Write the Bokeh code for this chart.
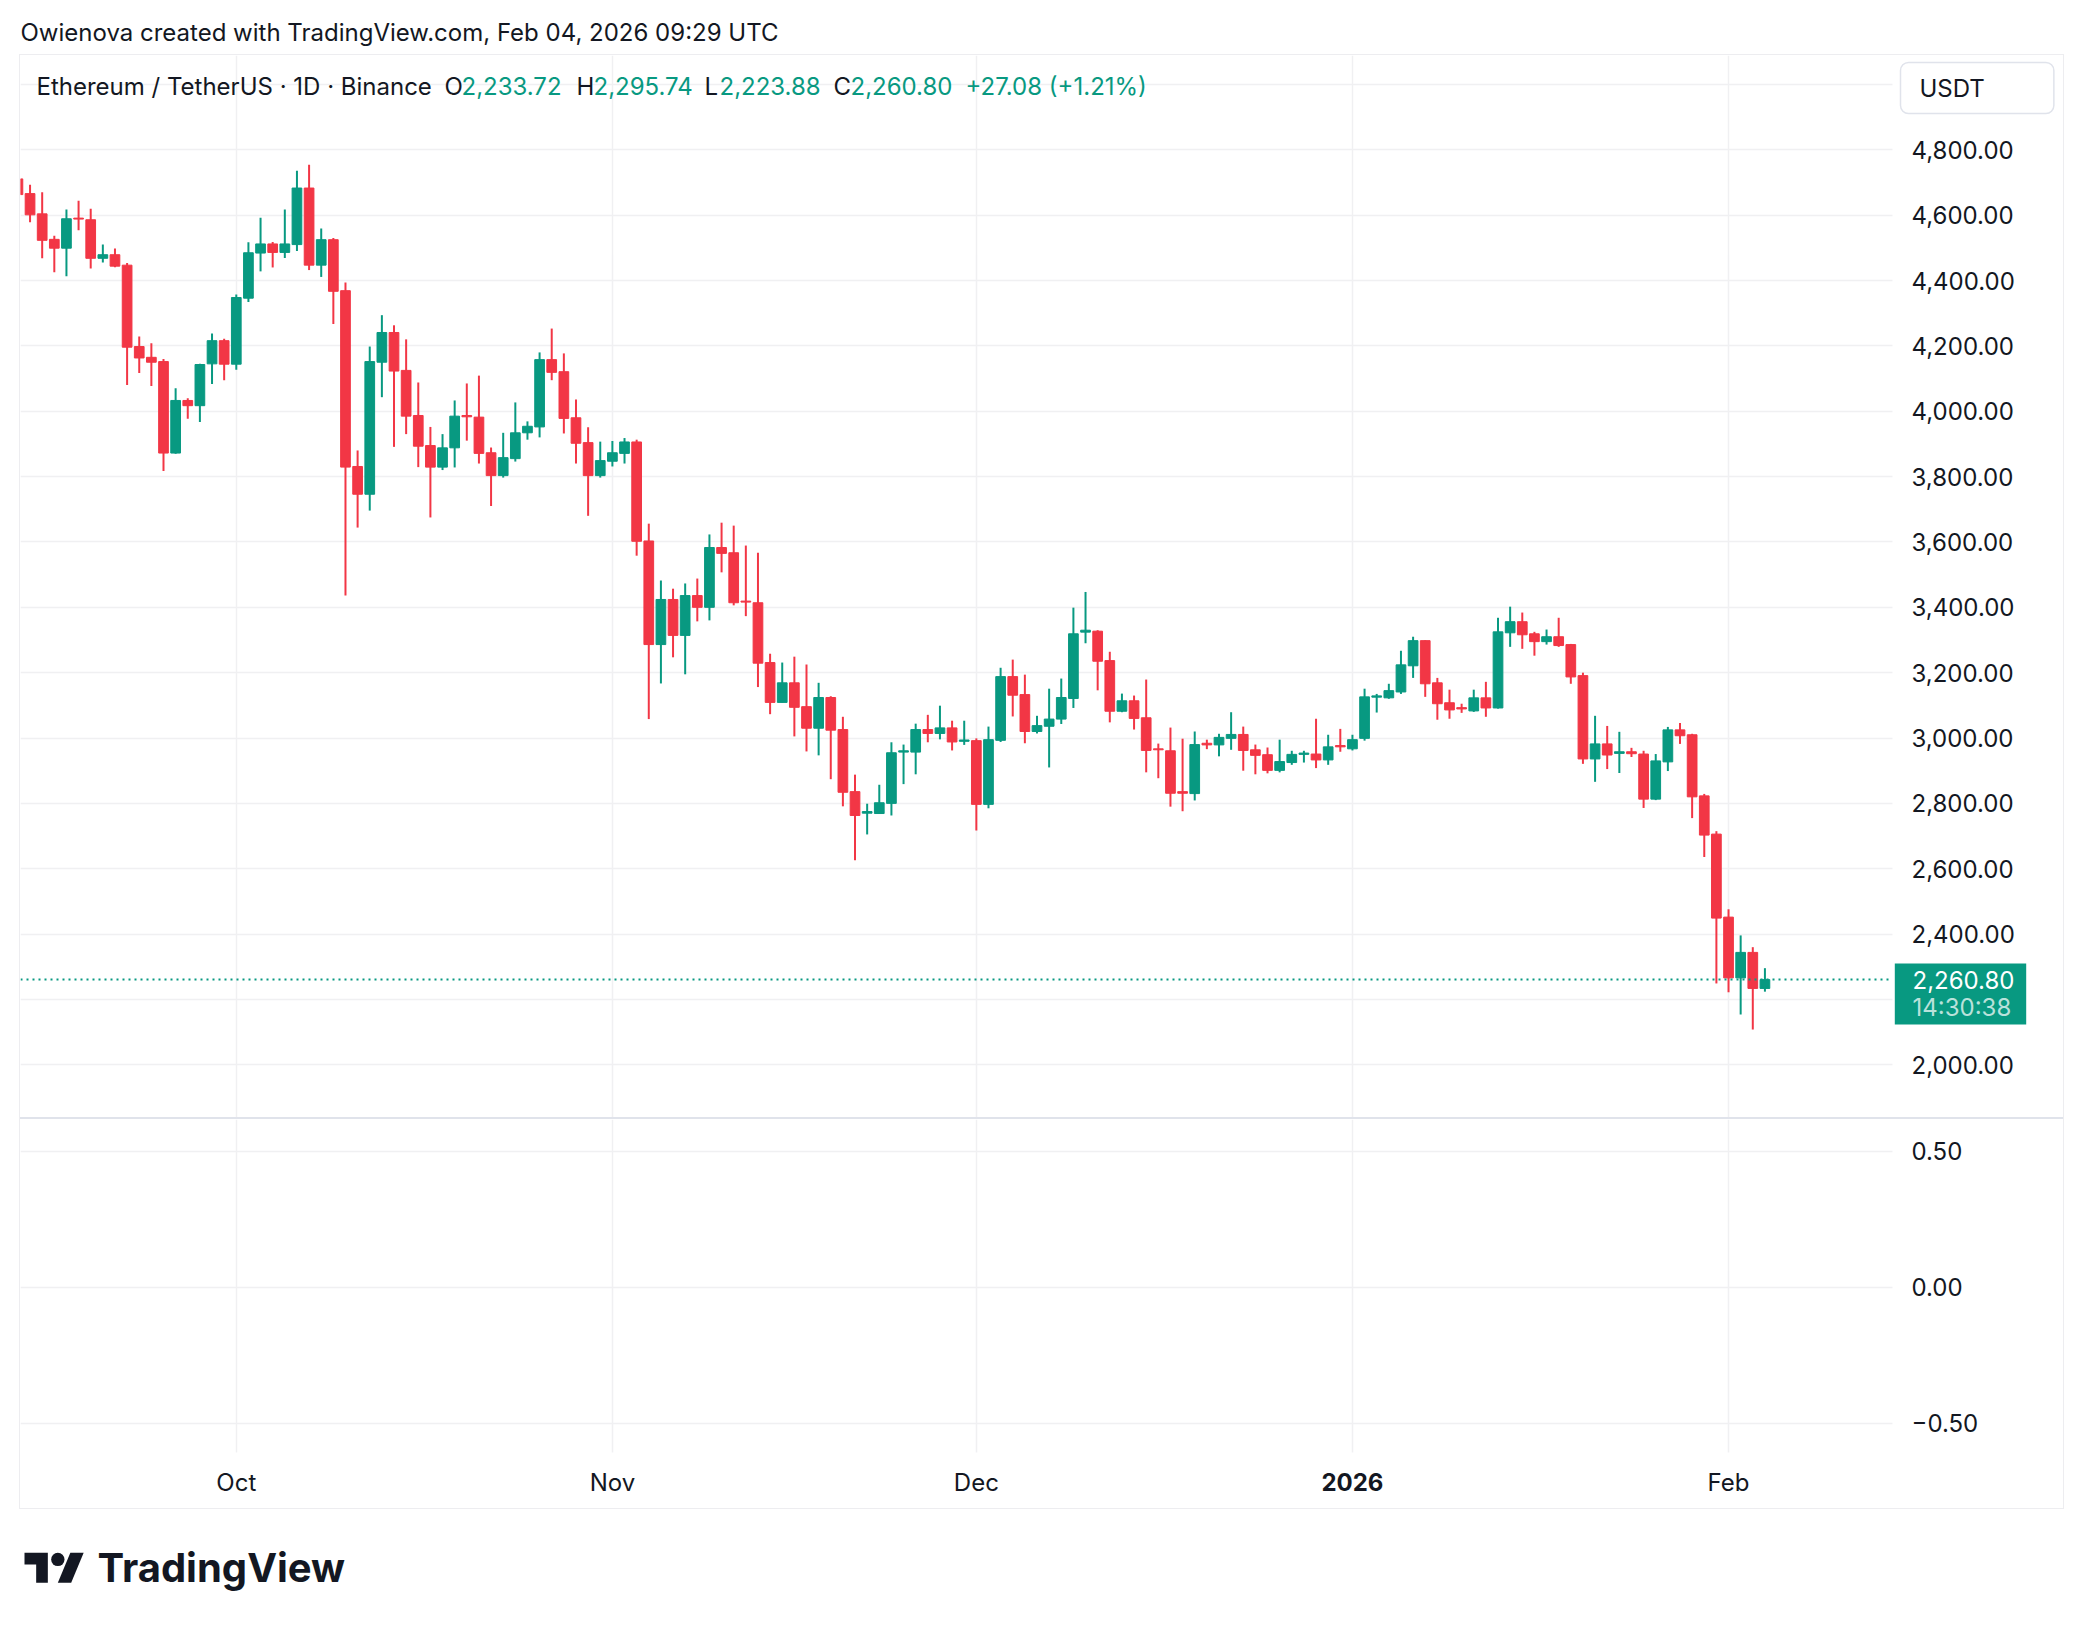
import pandas as pd
from bokeh.plotting import figure
from bokeh.models import (Range1d, FixedTicker, Label, Grid, ColumnDataSource,
                          NumeralTickFormatter, CustomJSTickFormatter, Div)
from bokeh.layouts import column
from bokeh.embed import file_html
from bokeh.resources import INLINE
from bokeh.core.properties import value

# ---------------- data ----------------
CREDIT = "Owienova created with TradingView.com, Feb 04, 2026 09:29 UTC"
SYMBOL = "Ethereum / TetherUS · 1D · Binance"
CURRENCY = "USDT"
TIMER = "14:30:38"
START_DATE = "2025-09-13"

OPEN = [4711, 4666, 4604, 4526, 4499, 4591, 4586, 4468, 4479, 4447, 4198, 4165, 4152, 3872, 4033, 4017, 4145, 4216,
        4144, 4346, 4484, 4512, 4486, 4510, 4683, 4447, 4525, 4369, 3831, 3746, 4150, 4241, 4125, 3987, 3895, 3829,
        3888, 3987, 3982, 3873, 3803, 3855, 3934, 3952, 4158, 4121, 3980, 3904, 3803,
        3847, 3871, 3906, 3603, 3286, 3424, 3314, 3436, 3400, 3583, 3567, 3419, 3414, 3231, 3109, 3169, 3096, 3030,
        3124, 3026, 2836, 2770, 2769, 2800, 2957, 2957, 3026, 3014, 3031, 2990,
        2992, 2797, 2993, 3188, 3133, 3020, 3036, 3058, 3121, 3324, 3327, 3237, 3082, 3114, 3062, 2967, 2961, 2836,
        2830, 2984, 2979, 2999, 3011, 2964, 2949, 2901, 2925, 2950, 2951, 2933, 2977,
        2967, 2999, 3125, 3123, 3141, 3221, 3298, 3169, 3108, 3093, 3083, 3123, 3092, 3322, 3356, 3319, 3295, 3310,
        3286, 3191, 2936, 2982, 2953, 2958, 2951, 2813, 2927, 3025, 3010, 2823, 2706,
        2452, 2266, 2344, 2233.72]
HIGH = [4745, 4693, 4670, 4537, 4617, 4644, 4620, 4510, 4498, 4454, 4229, 4208, 4160, 4070, 4040, 4145, 4238, 4222,
        4357, 4517, 4592, 4518, 4617, 4736, 4754, 4559, 4530, 4394, 3880, 4198, 4294, 4263, 4220, 4088, 3952, 3930,
        4033, 4085, 4109, 3889, 3934, 4027, 3969, 4180, 4253, 4177, 4036, 3951, 3907,
        3909, 3918, 3913, 3656, 3482, 3457, 3473, 3488, 3623, 3659, 3650, 3589, 3567, 3258, 3231, 3249, 3225, 3169,
        3128, 3065, 2888, 2799, 2857, 2987, 2980, 3044, 3071, 3099, 3053, 3053,
        2999, 3035, 3215, 3240, 3194, 3068, 3151, 3182, 3399, 3447, 3330, 3264, 3136, 3130, 3179, 2983, 3032, 2998,
        3020, 2995, 3013, 3079, 3035, 2980, 2971, 2995, 2961, 2961, 3059, 3010, 3028,
        3010, 3151, 3135, 3166, 3267, 3310, 3299, 3184, 3148, 3105, 3148, 3172, 3368, 3402, 3384, 3325, 3332, 3368,
        3288, 3200, 3068, 3037, 3019, 2970, 2961, 2951, 3034, 3046, 3013, 2829, 2715,
        2476, 2396, 2360, 2295.74]
LOW = [4650, 4578, 4468, 4425, 4413, 4554, 4437, 4455, 4441, 4080, 4117, 4077, 3817, 3870, 3977, 3967, 4083, 4095,
       4127, 4334, 4428, 4440, 4469, 4490, 4432, 4411, 4267, 3436, 3644, 3696, 4043, 3891, 3930, 3829, 3675, 3820,
       3828, 3910, 3840, 3710, 3797, 3846, 3913, 3920, 4095, 3932, 3840, 3680, 3797,
       3831, 3840, 3558, 3058, 3167, 3247, 3195, 3357, 3360, 3507, 3406, 3373, 3156, 3073, 3109, 3005, 2959, 2947,
       2874, 2791, 2626, 2705, 2769, 2763, 2859, 2889, 2987, 2996, 2962, 2979,
       2717, 2785, 2988, 3066, 2984, 3014, 2910, 3043, 3092, 3290, 3146, 3048, 3079, 3026, 2895, 2877, 2790, 2776,
       2809, 2966, 2944, 2964, 2900, 2889, 2892, 2895, 2918, 2925, 2908, 2918, 2958,
       2962, 2992, 3078, 3120, 3135, 3184, 3126, 3056, 3059, 3077, 3080, 3065, 3090, 3279, 3273, 3252, 3286, 3279,
       3166, 2921, 2866, 2905, 2893, 2942, 2786, 2810, 2899, 2982, 2755, 2636, 2249,
       2222, 2154, 2108, 2223.88]
CLOSE = [4663, 4601, 4523, 4499, 4589, 4588, 4468, 4479, 4444, 4196, 4163, 4150, 3872, 4033, 4017, 4143, 4216, 4144,
         4348, 4485, 4512, 4486, 4512, 4683, 4447, 4525, 4367, 3829, 3746, 4152, 4241, 4123, 3985, 3893, 3829, 3888,
         3985, 3983, 3871, 3803, 3858, 3934, 3954, 4158, 4119, 3978, 3902, 3803, 3849,
         3873, 3906, 3602, 3286, 3424, 3314, 3436, 3400, 3583, 3565, 3414, 3416, 3229, 3109, 3169, 3094, 3030, 3124,
         3024, 2834, 2763, 2775, 2802, 2955, 2961, 3026, 3014, 3031, 2988, 2994,
         2797, 2995, 3188, 3131, 3020, 3038, 3058, 3124, 3319, 3330, 3235, 3082, 3114, 3060, 2962, 2964, 2831, 2831,
         2980, 2979, 3002, 3011, 2962, 2947, 2901, 2928, 2950, 2954, 2933, 2973, 2973,
         2995, 3126, 3129, 3145, 3224, 3298, 3166, 3105, 3086, 3089, 3123, 3092, 3325, 3356, 3316, 3295, 3310, 3283,
         3187, 2936, 2982, 2948, 2958, 2952, 2813, 2930, 3025, 3007, 2820, 2703, 2449,
         2266, 2344, 2233.72, 2260.80]

PRICE_TICKS = [2000, 2400, 2600, 2800, 3000, 3200, 3400, 3600, 3800, 4000, 4200, 4400, 4600, 4800]
PRICE_GRID = [2000, 2200, 2400, 2600, 2800, 3000, 3200, 3400, 3600, 3800, 4000, 4200, 4400, 4600, 4800, 5000]
LOWER_TICKS = [0.5, 0.0, -0.5]
MONTH_STARTS = ["2025-10-01", "2025-11-01", "2025-12-01", "2026-01-01", "2026-02-01"]
MONTH_LABELS = ["Oct", "Nov", "Dec", "2026", "Feb"]
BOLD_LABELS = ["2026"]

# ---------------- style / layout ----------------
UP = "#089981"
DOWN = "#F23645"
TXT = "#131722"
GRID = "#f0f0f2"
SEP = "#e0e3eb"
FONT = "Inter"
FS = "24px"

PANEL_W = 2043          # whole bordered panel (plot + price scale)
FRAME_W = 1872          # plotting area width (left of the price scale)
MAIN_H = 1062
LOWER_H = 389
PX_PER_DAY = 12.132

dates = pd.date_range(START_DATE, periods=len(CLOSE), freq="D")
xs = list(range(len(CLOSE)))
month_idx = [int((pd.Timestamp(d) - dates[0]).days) for d in MONTH_STARTS]

src = ColumnDataSource(dict(
    x=xs, o=OPEN, h=HIGH, l=LOW, c=CLOSE,
    top=[max(o, c) for o, c in zip(OPEN, CLOSE)],
    bottom=[min(o, c) for o, c in zip(OPEN, CLOSE)],
    color=[UP if c >= o else DOWN for o, c in zip(OPEN, CLOSE)],
))

X0 = 0.213
AXIS_X = X0 + FRAME_W / PX_PER_DAY
x_range = Range1d(X0, X0 + PANEL_W / PX_PER_DAY)


def style_axis(ax, standoff):
    ax.axis_line_color = None
    ax.major_tick_line_color = None
    ax.minor_tick_line_color = None
    ax.major_tick_out = 0
    ax.major_tick_in = 0
    ax.minor_tick_out = 0
    ax.minor_tick_in = 0
    ax.major_label_standoff = standoff
    ax.major_label_text_font = FONT
    ax.major_label_text_font_size = FS
    ax.major_label_text_color = TXT


def base_fig(h, yr, xloc):
    f = figure(width=PANEL_W, height=h, x_range=x_range, y_range=yr,
               output_backend="svg", toolbar_location=None, x_axis_location=xloc, y_axis_location="right",
               min_border=0, min_border_left=0, min_border_right=0, min_border_top=0, min_border_bottom=0,
               outline_line_color=None, background_fill_color="white", border_fill_color="white")
    f.grid.grid_line_color = None
    return f


# ---------------- main pane ----------------
YMIN, YMAX = 1838.8, 5088.6
PRICE_PER_PX = (YMAX - YMIN) / MAIN_H
p = base_fig(MAIN_H, Range1d(YMIN, YMAX), None)
p.add_layout(Grid(dimension=0, ticker=FixedTicker(ticks=month_idx), grid_line_color=GRID, grid_line_width=1.5))
p.add_layout(Grid(dimension=1, ticker=FixedTicker(ticks=PRICE_GRID), grid_line_color=GRID, grid_line_width=1.5))
# price-scale column background (grid lines stop at the scale)
p.quad(left=[AXIS_X], right=[x_range.end + 5], bottom=[YMIN - 500], top=[YMAX + 500],
       fill_color="white", line_color=None)

ya = p.yaxis[0]
ya.fixed_location = AXIS_X
ya.ticker = FixedTicker(ticks=PRICE_TICKS)
ya.formatter = NumeralTickFormatter(format="0,0.00")
style_axis(ya, 19)

p.segment(x0="x", y0="l", x1="x", y1="h", source=src, line_color="color", line_width=2)
p.vbar(x="x", width=0.8, top="top", bottom="bottom", source=src,
       fill_color="color", line_color="color", line_width=1)

last_o, last_h, last_l, last_c = OPEN[-1], HIGH[-1], LOW[-1], CLOSE[-1]
chg = last_c - CLOSE[-2]
pct = chg / CLOSE[-2] * 100
last_col = UP if last_c >= last_o else DOWN

# last-price dotted line
p.segment(x0=[X0], x1=[AXIS_X], y0=[last_c], y1=[last_c], line_color=last_col, line_width=2, line_dash="2 4")

# last-price box on the price scale (16 px above, 45 px below the price level)
p.quad(left=[AXIS_X + 2.3 / PX_PER_DAY], right=[AXIS_X + 133.7 / PX_PER_DAY],
       top=[last_c + 16 * PRICE_PER_PX], bottom=[last_c - 45 * PRICE_PER_PX],
       fill_color=last_col, line_color=None)
p.add_layout(Label(x=1892, y=last_c, x_units="screen", y_units="data", text=f"{last_c:,.2f}",
                   text_font=FONT, text_font_size=FS, text_color="white",
                   text_baseline="middle", text_align="left"))
p.add_layout(Label(x=1892, y=last_c, y_offset=-27.5, x_units="screen", y_units="data", text=TIMER,
                   text_font=FONT, text_font_size=FS, text_color="white", text_alpha=0.72,
                   text_baseline="middle", text_align="left"))

legend_y = MAIN_H - 30.5
segments = [
    (SYMBOL, 16, TXT), ("O", 424, TXT), (f"{last_o:,.2f}", 441, last_col),
    ("H", 556, TXT), (f"{last_h:,.2f}", 573, last_col),
    ("L", 684, TXT), (f"{last_l:,.2f}", 699, last_col),
    ("C", 813, TXT), (f"{last_c:,.2f}", 830, last_col),
    (f"{chg:+.2f} ({pct:+.2f}%)", 945, last_col),
]
for txt, sx, col in segments:
    p.add_layout(Label(x=sx, y=legend_y, x_units="screen", y_units="screen", text=txt,
                       text_font=FONT, text_font_size=FS, text_color=col,
                       text_baseline="middle", text_align="left"))

# currency box (padding order: left, right, top, bottom)
p.add_layout(Label(x=1880, y=MAIN_H - 32.5, x_units="screen", y_units="screen", text=CURRENCY,
                   text_font=FONT, text_font_size=FS, text_color=TXT,
                   text_baseline="middle", text_align="left",
                   background_fill_color="white", border_line_color=SEP, border_line_width=1.5,
                   border_radius=8, padding=(19, 69, 11, 11)))

# ---------------- lower pane ----------------
LMIN, LMAX = -0.8136, 0.6165
LPANE_BOTTOM = -0.6077
q = base_fig(LOWER_H, Range1d(LMIN, LMAX), "below")
q.add_layout(Grid(dimension=0, ticker=FixedTicker(ticks=month_idx), grid_line_color=GRID, grid_line_width=1.5))
q.add_layout(Grid(dimension=1, ticker=FixedTicker(ticks=LOWER_TICKS), grid_line_color=GRID, grid_line_width=1.5))
q.quad(left=[AXIS_X, X0 - 5], right=[x_range.end + 5, x_range.end + 5],
       bottom=[LMIN - 1, LMIN - 1], top=[LMAX + 1, LPANE_BOTTOM],
       fill_color="white", line_color=None)

qy = q.yaxis[0]
qy.fixed_location = AXIS_X
qy.ticker = FixedTicker(ticks=LOWER_TICKS)
qy.formatter = CustomJSTickFormatter(code="return (tick < 0 ? '\u2212' : '') + Math.abs(tick).toFixed(2);")
style_axis(qy, 19)

qx = q.xaxis[0]
qx.fixed_location = LPANE_BOTTOM
qx.ticker = FixedTicker(ticks=month_idx)
plain_labels = ["" if l in BOLD_LABELS else l for l in MONTH_LABELS]
qx.formatter = CustomJSTickFormatter(args=dict(pos=month_idx, lab=plain_labels),
                                     code="const i = pos.indexOf(tick); return i >= 0 ? lab[i] : '';")
style_axis(qx, 16)
for pos, lab in zip(month_idx, MONTH_LABELS):
    if lab in BOLD_LABELS:
        q.add_layout(Label(x=pos, y=LOWER_H - 362.7, x_units="data", y_units="screen", text=lab,
                           text_font=FONT, text_font_size=FS, text_font_style="bold",
                           text_color=TXT, text_baseline="middle", text_align="center"))

sep = Div(width=PANEL_W, height=2, margin=0, styles={"background-color": SEP})

panel = column(p, sep, q, margin=(0, 0, 0, 11), spacing=0,
               styles={"border": "1px solid #ededf0"})

# ---------------- header & logo ----------------
hdr = figure(width=2068, height=46, x_range=Range1d(0, 2068), y_range=Range1d(0, 46),
             output_backend="svg", toolbar_location=None, x_axis_location=None, y_axis_location=None,
             min_border=0, outline_line_color=None)
hdr.grid.grid_line_color = None
hdr.add_layout(Label(x=12, y=22.3, x_units="screen", y_units="screen", text=CREDIT,
                     text_font=FONT, text_font_size=FS, text_color=TXT,
                     text_baseline="middle", text_align="left"))

logo = figure(width=2068, height=100, x_range=Range1d(0, 2068), y_range=Range1d(0, 100),
              output_backend="svg", toolbar_location=None, x_axis_location=None, y_axis_location=None,
              min_border=0, outline_line_color=None)
logo.grid.grid_line_color = None
S = 1.667
OX, OY = 24 - 8, 1545.6
TOP = 1609


def tx(vx):
    return OX + S * vx


def ty(vy):
    return TOP - (OY + S * vy)


t_shape = [(14, 22), (7, 22), (7, 11), (0, 11), (0, 4), (14, 4)]
slash = [(28, 22), (20, 22), (27.5, 4), (35.5, 4)]
logo.patches(xs=[[tx(a) for a, b in t_shape], [tx(a) for a, b in slash]],
             ys=[[ty(b) for a, b in t_shape], [ty(b) for a, b in slash]],
             fill_color="#131722", line_color=None)
logo.circle(x=[tx(20)], y=[ty(8)], radius=4 * S, fill_color="#131722", line_color=None)
logo.text(x=[97 - 8], y=[TOP - 1566.5], text=["TradingView"], text_font=value(FONT),
          text_font_size="40px", text_font_style="bold", text_color="#131722",
          text_baseline="middle", text_align="left")

page = column(hdr, panel, logo, spacing=0, margin=(8, 0, 0, 8))

open("out.html", "w").write(file_html(page, INLINE))
